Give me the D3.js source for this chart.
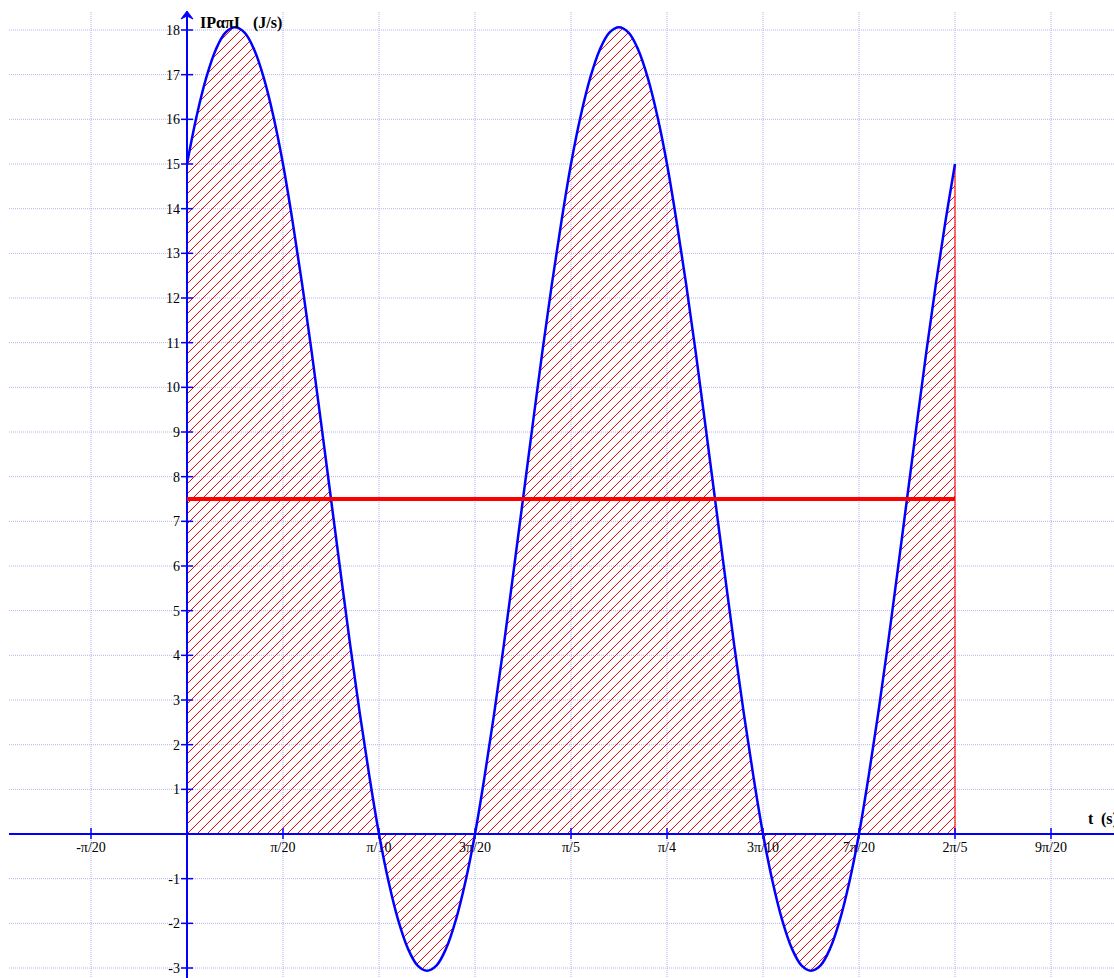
<!DOCTYPE html>
<html>
<head>
<meta charset="utf-8">
<script src="https://cdn.jsdelivr.net/npm/d3@7"></script>
<style>
  html, body { margin: 0; padding: 0; background: #ffffff; }
  svg { display: block; }
</style>
</head>
<body>
<svg id="chart" width="1114" height="978"></svg>
<script>
// ---- data ----
// sample spacing of the time values, in seconds
const timeStep = Math.PI / 200;
// instantaneous power |Pαπ| (J/s) at t = i * timeStep, i = 0..80
const powerValues = [
  15.00, 16.07, 16.93, 17.56, 17.94, 18.06, 17.94, 17.56, 16.93, 16.07,
  15.00, 13.71, 12.30, 10.77, 9.15, 7.50, 5.85, 4.23, 2.70, 1.29,
  0.00, -1.07, -1.93, -2.56, -2.94, -3.06, -2.94, -2.56, -1.93, -1.07,
  0.00, 1.29, 2.70, 4.23, 5.85, 7.50, 9.15, 10.77, 12.30, 13.71,
  15.00, 16.07, 16.93, 17.56, 17.94, 18.06, 17.94, 17.56, 16.93, 16.07,
  15.00, 13.71, 12.30, 10.77, 9.15, 7.50, 5.85, 4.23, 2.70, 1.29,
  0.00, -1.07, -1.93, -2.56, -2.94, -3.06, -2.94, -2.56, -1.93, -1.07,
  0.00, 1.29, 2.70, 4.23, 5.85, 7.50, 9.15, 10.77, 12.30, 13.71,
  15.00
];
const averagePower = 7.5;
const averageStart = 0;
const averageEnd = 2 * Math.PI / 5;

const xTickMultiples = [-1, 1, 2, 3, 4, 5, 6, 7, 8, 9];   // multiples of π/20
const xTickLabels = ["-π/20", "π/20", "π/10", "3π/20", "π/5", "π/4", "3π/10", "7π/20", "2π/5", "9π/20"];
const yTickValues = [-3, -2, -1, 1, 2, 3, 4, 5, 6, 7, 8, 9, 10, 11, 12, 13, 14, 15, 16, 17, 18];
const yTickLabels = yTickValues.map(String);
const yAxisTitleParts = ["IPαπI", "(J/s)"];
const xAxisTitleParts = ["t", "(s)"];

// ---- scales ----
const W = 1114, H = 978;
const pxPerUnitX = 96 / (Math.PI / 20);
const x0px = 187;
const x = d3.scaleLinear()
  .domain([-x0px / pxPerUnitX, (W - x0px) / pxPerUnitX])
  .range([0, W]);
const pxPerUnitY = (834 - 30) / 18;
const y0px = 834;
const y = d3.scaleLinear()
  .domain([-(H - y0px) / pxPerUnitY, y0px / pxPerUnitY])
  .range([H, 0]);

const svg = d3.select("#chart");
const BLUE = "#0000ff", RED = "#ff0000", GRID = "#b4b4f0";
const FONT = "'Liberation Serif', 'Times New Roman', serif";

// hatch pattern
const HS = 10;
const defs = svg.append("defs");
const pat = defs.append("pattern")
  .attr("id", "hatch")
  .attr("patternUnits", "userSpaceOnUse")
  .attr("width", HS).attr("height", HS)
  .attr("patternTransform", "translate(" + x0px + "," + y0px + ")");
pat.append("path")
  .attr("d", `M-1,1 L1,-1 M0,${HS} L${HS},0 M${HS - 1},${HS + 1} L${HS + 1},${HS - 1}`)
  .attr("stroke", RED).attr("stroke-width", 1.1)
  .attr("shape-rendering", "crispEdges");

// ---- grid ----
const gridG = svg.append("g");
const gridXs = [-1, 0, 1, 2, 3, 4, 5, 6, 7, 8, 9].map(m => m * Math.PI / 20);
gridG.selectAll("line.gx").data(gridXs).enter().append("line")
  .attr("x1", d => x(d)).attr("x2", d => x(d))
  .attr("y1", 12).attr("y2", H)
  .attr("stroke", GRID).attr("stroke-width", 1).attr("stroke-dasharray", "1,1");
const gridYs = d3.range(-3, 19);
gridG.selectAll("line.gy").data(gridYs).enter().append("line")
  .attr("x1", 9).attr("x2", W)
  .attr("y1", d => y(d)).attr("y2", d => y(d))
  .attr("stroke", GRID).attr("stroke-width", 1).attr("stroke-dasharray", "1,1");

// ---- hatched area ----
const pts = powerValues.map((p, i) => ({ t: i * timeStep, p: p }));
const area = d3.area()
  .x(d => x(d.t)).y0(y(0)).y1(d => y(d.p))
  .curve(d3.curveCatmullRom);
svg.append("path").datum(pts)
  .attr("d", area)
  .attr("fill", "url(#hatch)")
  .attr("stroke", "none");
// red edges of the region
const first = pts[0], last = pts[pts.length - 1];
svg.append("line")
  .attr("x1", x(first.t)).attr("x2", x(first.t))
  .attr("y1", y(0)).attr("y2", y(first.p))
  .attr("stroke", RED).attr("stroke-opacity", 0.55).attr("stroke-width", 2);
svg.append("line")
  .attr("x1", x(last.t)).attr("x2", x(last.t))
  .attr("y1", y(0)).attr("y2", y(last.p))
  .attr("stroke", RED).attr("stroke-opacity", 0.55).attr("stroke-width", 2);

// ---- axes ----
const axisG = svg.append("g");
axisG.append("line")
  .attr("x1", 9).attr("x2", W).attr("y1", y(0)).attr("y2", y(0))
  .attr("stroke", BLUE).attr("stroke-width", 2);
axisG.append("line")
  .attr("x1", x(0)).attr("x2", x(0)).attr("y1", H).attr("y2", 14)
  .attr("stroke", BLUE).attr("stroke-width", 2);
axisG.append("path")
  .attr("d", `M${x(0)},11 L${x(0) - 6},19 L${x(0)},16 L${x(0) + 6},19 Z`)
  .attr("fill", BLUE).attr("stroke", BLUE).attr("stroke-width", 1);

// y ticks
axisG.selectAll("line.yt").data(yTickValues).enter().append("line")
  .attr("x1", x(0) - 6).attr("x2", x(0) + 6)
  .attr("y1", d => y(d)).attr("y2", d => y(d))
  .attr("stroke", BLUE).attr("stroke-width", 1.5);
axisG.selectAll("text.yl").data(yTickValues).enter().append("text")
  .attr("x", x(0) - 7).attr("y", d => y(d) + 5)
  .attr("text-anchor", "end")
  .attr("font-family", FONT).attr("font-size", 14).attr("fill", "#000")
  .text((d, i) => yTickLabels[i]);

// x ticks
axisG.selectAll("line.xt").data(xTickMultiples).enter().append("line")
  .attr("x1", d => x(d * Math.PI / 20)).attr("x2", d => x(d * Math.PI / 20))
  .attr("y1", y(0) - 6).attr("y2", y(0) + 5)
  .attr("stroke", BLUE).attr("stroke-width", 1.5);
axisG.selectAll("text.xl").data(xTickMultiples).enter().append("text")
  .attr("x", d => x(d * Math.PI / 20)).attr("y", y(0) + 18)
  .attr("text-anchor", "middle")
  .attr("font-family", FONT).attr("font-size", 14).attr("fill", "#000")
  .text((d, i) => xTickLabels[i]);

// ---- curve ----
const line = d3.line().x(d => x(d.t)).y(d => y(d.p)).curve(d3.curveCatmullRom);
svg.append("path").datum(pts)
  .attr("d", line)
  .attr("fill", "none").attr("stroke", BLUE).attr("stroke-width", 2.5);

// ---- average line ----
svg.append("line")
  .attr("x1", x(averageStart)).attr("x2", x(averageEnd))
  .attr("y1", y(averagePower)).attr("y2", y(averagePower))
  .attr("stroke", RED).attr("stroke-width", 4);

// ---- titles ----
const yt = svg.append("text")
  .attr("x", 200).attr("y", 28)
  .attr("font-family", FONT).attr("font-size", 16).attr("font-weight", "bold")
  .attr("fill", "#000");
yt.append("tspan").attr("x", 200).text(yAxisTitleParts[0]);
yt.append("tspan").attr("x", 253).text(" " + yAxisTitleParts[1]).attr("dx", -4);
const xt = svg.append("text")
  .attr("x", 1088).attr("y", 824)
  .attr("font-family", FONT).attr("font-size", 16).attr("font-weight", "bold")
  .attr("fill", "#000");
xt.append("tspan").attr("x", 1088).text(xAxisTitleParts[0]);
xt.append("tspan").attr("x", 1101).text(xAxisTitleParts[1]);
</script>
</body>
</html>
